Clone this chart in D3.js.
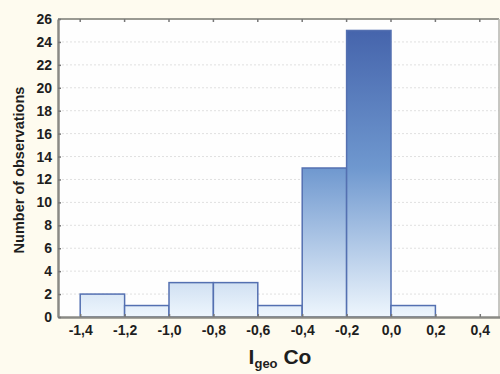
<!DOCTYPE html>
<html>
<head>
<meta charset="utf-8">
<script src="https://cdn.jsdelivr.net/npm/d3@7"></script>
<style>
  html, body { margin: 0; padding: 0; background: #fefbef; }
  svg { display: block; }
  text { font-family: "Liberation Sans", Arial, sans-serif; font-weight: bold; fill: #1e1e1e; }
</style>
</head>
<body>
<svg id="chart" width="500" height="374"></svg>
<script>
// Histogram of Igeo values for cobalt
const binStarts = [-1.4, -1.2, -1.0, -0.8, -0.6, -0.4, -0.2, 0.0];
const binWidth = 0.2;
const counts = [2, 1, 3, 3, 1, 13, 25, 1];
const xTicks = [-1.4, -1.2, -1.0, -0.8, -0.6, -0.4, -0.2, 0.0, 0.2, 0.4];
const yTicks = [0, 2, 4, 6, 8, 10, 12, 14, 16, 18, 20, 22, 24, 26];

const svg = d3.select("#chart");
const plotL = 58, plotR = 499, plotT = 19, plotB = 317;

const x = d3.scaleLinear().domain([-1.5, 0.5]).range([plotL, 502]);
const y = d3.scaleLinear().domain([0, 26]).range([plotB, plotT]);

const fmt = d => d3.format(".1f")(d).replace(".", ",").replace("−", "-");

// plot background
svg.append("rect")
  .attr("x", plotL).attr("y", plotT)
  .attr("width", plotR - plotL).attr("height", plotB - plotT)
  .attr("fill", "#fefefe");

// bar gradient spanning the full value range
const defs = svg.append("defs");
const grad = defs.append("linearGradient")
  .attr("id", "barFill")
  .attr("gradientUnits", "userSpaceOnUse")
  .attr("x1", 0).attr("x2", 0)
  .attr("y1", y(26)).attr("y2", y(0));
grad.append("stop").attr("offset", "0%").attr("stop-color", "#4260a9");
grad.append("stop").attr("offset", "50%").attr("stop-color", "#6f98cf");
grad.append("stop").attr("offset", "100%").attr("stop-color", "#eef6fd");

// horizontal grid
svg.append("g")
  .selectAll("line")
  .data(yTicks.filter(d => d > 0 && d < 26))
  .join("line")
  .attr("x1", plotL).attr("x2", plotR)
  .attr("y1", d => y(d)).attr("y2", d => y(d))
  .attr("stroke", "#e0e0e0")
  .attr("stroke-width", 1)
  .attr("stroke-dasharray", "2,2");

// bars
svg.append("g")
  .selectAll("rect")
  .data(counts.map((c, i) => ({ x0: binStarts[i], c })))
  .join("rect")
  .attr("x", d => x(d.x0))
  .attr("y", d => y(d.c))
  .attr("width", d => x(d.x0 + binWidth) - x(d.x0))
  .attr("height", d => y(0) - y(d.c))
  .attr("fill", "url(#barFill)")
  .attr("stroke", "#5470b1")
  .attr("stroke-width", 1.5);

// frame: top and right edges
svg.append("line")
  .attr("x1", plotL).attr("x2", plotR).attr("y1", plotT).attr("y2", plotT)
  .attr("stroke", "#9a9a92").attr("stroke-width", 2);
svg.append("line")
  .attr("x1", plotR).attr("x2", plotR).attr("y1", plotT).attr("y2", plotB)
  .attr("stroke", "#b5b5b0").attr("stroke-width", 1.5);

// top edge ticks
svg.append("g")
  .selectAll("line")
  .data(xTicks)
  .join("line")
  .attr("x1", d => x(d)).attr("x2", d => x(d))
  .attr("y1", plotT).attr("y2", plotT + 3)
  .attr("stroke", "#777").attr("stroke-width", 1.5);

// x axis
const xAxis = svg.append("g")
  .attr("transform", `translate(0,${plotB})`)
  .call(d3.axisBottom(x).tickValues(xTicks).tickFormat(fmt).tickSizeInner(-3).tickSizeOuter(0).tickPadding(8));
xAxis.select(".domain").attr("stroke", "#8a8a85").attr("stroke-width", 2.5);
xAxis.selectAll(".tick line").attr("stroke", "#777").attr("stroke-width", 1.5);
xAxis.selectAll("text").attr("font-size", 14).attr("fill", "#1e1e1e")
  .attr("font-family", "Liberation Sans, Arial, sans-serif").attr("font-weight", "bold");

// y axis
const yAxis = svg.append("g")
  .attr("transform", `translate(${plotL},0)`)
  .call(d3.axisLeft(y).tickValues(yTicks).tickSizeInner(-3).tickSizeOuter(0).tickPadding(6));
yAxis.select(".domain").attr("stroke", "#8a8a85").attr("stroke-width", 2.5);
yAxis.selectAll(".tick line").attr("stroke", "#777").attr("stroke-width", 1.5);
yAxis.selectAll("text").attr("font-size", 14).attr("fill", "#1e1e1e")
  .attr("font-family", "Liberation Sans, Arial, sans-serif").attr("font-weight", "bold");

// axis titles
const xt = svg.append("text")
  .attr("x", 280).attr("y", 364)
  .attr("text-anchor", "middle")
  .attr("font-size", 21);
xt.append("tspan").text("I");
xt.append("tspan").attr("font-size", 13).attr("dy", 4).text("geo");
xt.append("tspan").attr("dy", -4).text(" Co");

svg.append("text")
  .attr("transform", "translate(24,170) rotate(-90)")
  .attr("text-anchor", "middle")
  .attr("font-size", 14.5)
  .text("Number of observations");
</script>
</body>
</html>
